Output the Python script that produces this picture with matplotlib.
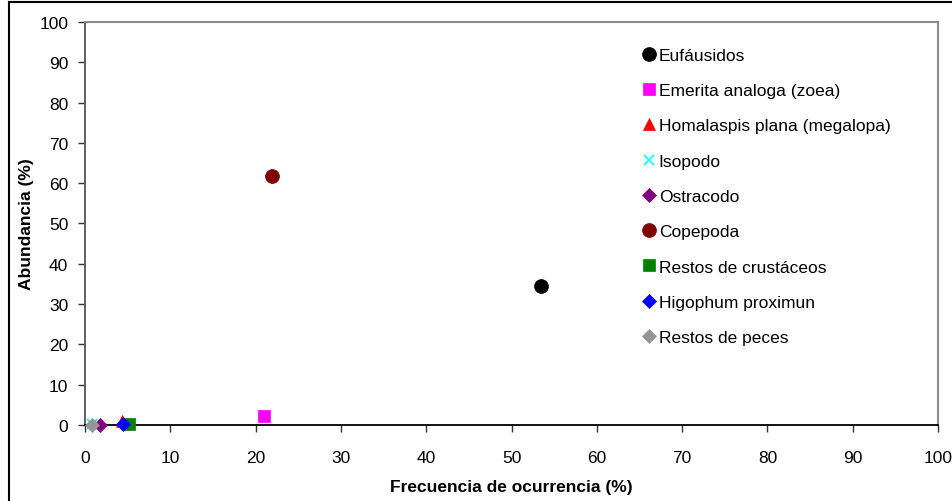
import matplotlib
matplotlib.use("Agg")
import matplotlib.pyplot as plt
from matplotlib.lines import Line2D

plt.rcParams['font.family'] = ['Liberation Sans', 'DejaVu Sans']

# frecuencia de ocurrencia (%) y abundancia (%) por presa
presas = ["Eufáusidos", "Emerita analoga (zoea)", "Homalaspis plana (megalopa)",
          "Isopodo", "Ostracodo", "Copepoda", "Restos de crustáceos",
          "Higophum proximun", "Restos de peces"]
frecuencia = [53.4, 21.0, 4.3, 0.8, 1.8, 21.9, 5.2, 4.4, 0.8]
abundancia = [34.4, 2.3, 1.0, 0.2, 0.1, 61.8, 0.2, 0.2, 0.1]

marcadores = ['o', 's', '^', 'x', 'D', 'o', 's', 'D', 'D']
colores = ['#000000', '#ff00ff', '#ff0000', '#00ffff', '#800080',
           '#800000', '#008000', '#0000ff', '#969696']
tamanos = [10, 9, 9, 7, 7.5, 10, 9, 7.5, 7.5]

fig = plt.figure(figsize=(9.53, 5.02), dpi=100)
ax = fig.add_axes([0.0892, 0.1514, 0.8951, 0.8028])

for i in range(len(presas)):
    ax.plot(frecuencia[i], abundancia[i], linestyle='none', marker=marcadores[i],
            color=colores[i], markersize=tamanos[i], markeredgewidth=1.2 if marcadores[i] == 'x' else 0.5,
            label=presas[i], clip_on=False, zorder=3 + i)

ax.set_xlim(0, 100)
ax.set_ylim(0, 100)
ax.set_xticks(range(0, 101, 10))
ax.set_yticks(range(0, 101, 10))
ax.tick_params(direction='out', length=5, width=1, labelsize=12.5, colors='#333333',
               labelcolor='black')
ax.tick_params(axis='x', pad=13)
ax.tick_params(axis='y', pad=7)

for lado in ['top', 'right']:
    ax.spines[lado].set_color('#8c8c8c')
    ax.spines[lado].set_linewidth(1.5)
ax.spines['bottom'].set_color('black')
ax.spines['bottom'].set_linewidth(1.3)
ax.spines['left'].set_color('#555555')
ax.spines['left'].set_linewidth(1.3)

ax.set_xlabel("Frecuencia de ocurrencia (%)", fontsize=12.5, fontweight='bold', labelpad=10)
ax.set_ylabel("Abundancia (%)", fontsize=12.5, fontweight='bold', labelpad=4)

ax.legend(loc='upper left', bbox_to_anchor=(0.644, 0.958), frameon=False,
          fontsize=12.5, handlelength=0.7, handletextpad=0.2, labelspacing=1.16,
          borderpad=0, markerscale=1.0)

# marco exterior de la figura
fig.add_artist(Line2D([9 / 953, 1], [1 - 3 / 502, 1 - 3 / 502], color='black', lw=1.5,
                      transform=fig.transFigure))
fig.add_artist(Line2D([9 / 953, 9 / 953], [0, 1 - 3 / 502], color='black', lw=1.5,
                      transform=fig.transFigure))

fig.savefig("out.png", dpi=100)
